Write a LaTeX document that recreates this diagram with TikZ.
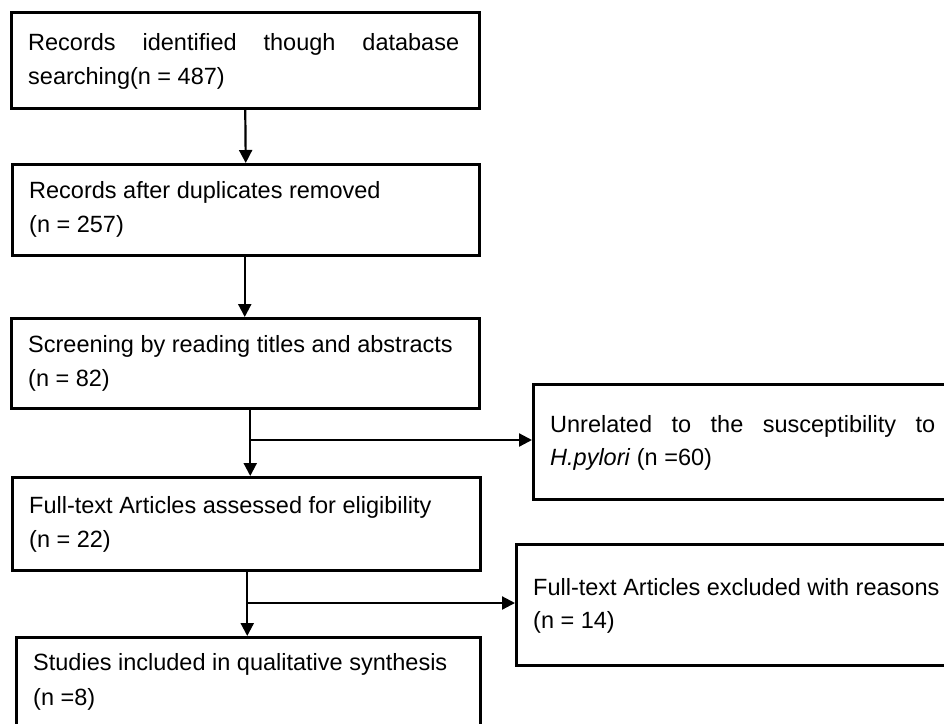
\documentclass[tikz,border=0pt]{standalone}
\usepackage{fontspec}
\setmainfont{Liberation Sans}
\usetikzlibrary{arrows.meta,calc}
\tikzset{
  boxnode/.style={draw=black, line width=2.5pt, inner sep=0pt, anchor=north west, fill=none},
  txt/.style={inner sep=0pt, anchor=base west, font=\fontsize{23.5}{34}\selectfont},
  arr/.style={line width=2.2pt, -{Triangle[width=13pt,length=13pt]}},
  ln/.style={line width=2.2pt}
}
\begin{document}
\begin{tikzpicture}[x=1pt,y=-1pt]
\useasboundingbox[fill=white] (0,0) rectangle (944,723);
% boxes
\node[boxnode, minimum width=468pt, minimum height=96pt] (b1) at (10,11) {};
\node[boxnode, minimum width=467pt, minimum height=91pt] (b2) at (11,163) {};
\node[boxnode, minimum width=468pt, minimum height=90pt] (b3) at (10,317) {};
\node[boxnode, minimum width=468pt, minimum height=93pt] (b5) at (11,476) {};
\node[boxnode, minimum width=464pt, minimum height=110pt] (b7) at (15,636) {};
\node[boxnode, minimum width=430pt, minimum height=115pt] (b4) at (532,383) {};
\node[boxnode, minimum width=447pt, minimum height=121pt] (b6) at (515,543) {};
% texts
\node[txt] (t1a) at (28,50) {\makebox[431pt][s]{Records identified though database}};
\node[txt] (t1b) at (28,84) {searching(n = 487)};
\node[txt] (t2a) at (29,198) {Records after duplicates removed};
\node[txt] (t2b) at (29,232) {(n = 257)};
\node[txt] (t3a) at (28,352) {Screening by reading titles and abstracts};
\node[txt] (t3b) at (28,386) {(n = 82)};
\node[txt] (t5a) at (29,513) {Full-text Articles assessed for eligibility};
\node[txt] (t5b) at (29,547) {(n = 22)};
\node[txt] (t7a) at (33,670) {Studies included in qualitative synthesis};
\node[txt] (t7b) at (33,705) {(n =8)};
\node[txt] (t4a) at (550,432) {\makebox[385pt][s]{Unrelated to the susceptibility to}};
\node[txt] (t4b) at (550,465) {\textit{H.pylori} (n =60)};
\node[txt] (t6a) at (533,595) {Full-text Articles excluded with reasons};
\node[txt] (t6b) at (533,628) {(n = 14)};
% connectors
\draw[arr] (b1.south) -- (b2.north);
\draw[arr] ([xshift=-1pt]b2.south) -- ([xshift=-1pt]b2.south |- b3.north);
\coordinate (s3) at ([xshift=5pt]b3.south);
\coordinate (j1) at (s3 |- 0,440);
\draw[arr] (s3) -- (s3 |- b5.north);
\draw[arr] (j1) -- (j1 -| b4.west);
\coordinate (s5) at ([xshift=1pt]b5.south);
\coordinate (j2) at (s5 |- 0,603);
\draw[arr] (s5) -- (s5 |- b7.north);
\draw[arr] (j2) -- (j2 -| b6.west);
\end{tikzpicture}
\end{document}
